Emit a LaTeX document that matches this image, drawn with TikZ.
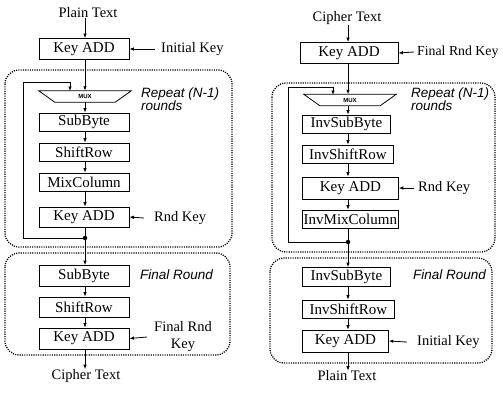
\documentclass[tikz,border=0pt]{standalone}
\usepackage{fontspec}
\setmainfont{Liberation Serif}
\newfontfamily\itsans{Liberation Sans}
\usetikzlibrary{arrows.meta}
\begin{document}
\begin{tikzpicture}[x=1pt,y=-1pt,
  blk/.style={draw, line width=0.8pt, minimum width=90pt, minimum height=18pt, inner sep=0pt, font=\fontsize{15}{15}\selectfont},
  lbl/.style={inner sep=0pt, font=\fontsize{14.5}{17}\selectfont},
  ital/.style={inner sep=0pt, align=left, font=\itsans\itshape\fontsize{13.5}{13}\selectfont},
  region/.style={draw, line width=1.3pt, dash pattern=on 1.1pt off 1.2pt, rounded corners=14pt},
  arr/.style={-{Latex[length=4.5pt,width=3.5pt]}, line width=0.8pt},
  ln/.style={line width=0.8pt},
  jdot/.style={circle, fill, inner sep=0pt, minimum size=4.5pt},
  muxlbl/.style={inner sep=0pt, minimum width=92pt, minimum height=11pt, font=\itsans\bfseries\fontsize{6}{6}\selectfont},
  muxshape/.style={draw, line width=0.8pt}
]
\useasboundingbox (0,0) rectangle (503,392);

% ================= LEFT =================
\coordinate (axL) at (85,0);
\node[lbl] (pt1) at (88,13) {Plain Text};
\node[blk, minimum height=21pt] (ka1) at (84,49) {Key ADD};
\node[lbl, anchor=west] (ik1) at (161,49) {Initial Key};
\draw[arr] (pt1.south -| axL) -- (ka1.north -| axL);
\draw[arr] ([xshift=-6pt]ik1.west) -- (ka1.east);

\draw[region] (5,70) rectangle (232,247);
\node[ital, anchor=north west] (rep1) at (141,88) {Repeat (N-1)\\rounds};

\node[muxlbl] (mux1) at (85,96.5) {MUX};
\draw[muxshape] (mux1.north west) -- (mux1.north east) -- ([xshift=-16pt]mux1.south east) -- ([xshift=16pt]mux1.south west) -- cycle;
\draw[arr] (ka1.south -| axL) -- (mux1.north);

\node[blk] (sb1) at (84,122) {SubByte};
\node[blk] (sr1) at (84,152) {ShiftRow};
\node[blk] (mc1) at (84,182) {MixColumn};
\node[blk, minimum height=20pt] (ka2) at (84,217) {Key ADD};
\node[lbl, anchor=west] (rk1) at (154,218) {Rnd Key};
\draw[arr] (mux1.south) -- (sb1.north -| axL);
\draw[arr] (sb1.south -| axL) -- (sr1.north -| axL);
\draw[arr] (sr1.south -| axL) -- (mc1.north -| axL);
\draw[arr] (mc1.south -| axL) -- (ka2.north -| axL);
\draw[arr] ([xshift=-10pt]rk1.west) -- (ka2.east);

\node[jdot] (j1) at (85,238) {};
\draw[ln] (ka2.south -| axL) -- (j1);
\coordinate (lp1) at (23,82);
\coordinate (mx1) at (70,91);
\draw[arr] (j1) -| (lp1) -| (mx1);

\draw[region] (5,253) rectangle (230,355);
\node[ital, anchor=west] (fr1) at (140,275) {Final Round};
\node[blk, minimum height=21pt] (sb2) at (84,276) {SubByte};
\node[blk, minimum height=20pt] (sr2) at (84,307) {ShiftRow};
\node[blk, minimum height=21pt] (ka3) at (84,338.5) {Key ADD};
\node[lbl, align=center] (frk1) at (183,337) {Final Rnd\\Key};
\draw[arr] (j1) -- (sb2.north -| axL);
\draw[arr] (sb2.south -| axL) -- (sr2.north -| axL);
\draw[arr] (sr2.south -| axL) -- (ka3.north -| axL);
\draw[arr] ([xshift=-7pt]frk1.west) -- (ka3.east);
\node[lbl] (ct1) at (86,376) {Cipher Text};
\draw[arr] (ka3.south -| axL) -- (ct1.north -| axL);

% ================= RIGHT =================
\coordinate (axR) at (348,0);
\node[lbl] (ct2) at (347,18) {Cipher Text};
\node[blk, minimum width=98pt, minimum height=21pt] (rka1) at (349,53) {Key ADD};
\node[lbl, anchor=west, font=\fontsize{13.8}{17}\selectfont] (frk2) at (417,52) {Final Rnd Key};
\draw[arr] ([xshift=-3pt]frk2.west) -- (rka1.east);
\draw[arr] (ct2.south -| axR) -- (rka1.north -| axR);

\draw[region] (272,83) rectangle (495,252);
\node[ital, anchor=north west] (rep2) at (411,88) {Repeat (N-1)\\rounds};

\node[muxlbl] (mux2) at (350,100) {MUX};
\draw[muxshape] (mux2.north west) -- (mux2.north east) -- ([xshift=-16pt]mux2.south east) -- ([xshift=16pt]mux2.south west) -- cycle;
\draw[arr] (rka1.south -| axR) -- (mux2.north -| axR);

\node[blk, anchor=west, minimum width=88pt] (isb1) at (302,124) {InvSubByte};
\node[blk, anchor=west, minimum width=91pt] (isr1) at (302,154) {InvShiftRow};
\node[blk, anchor=west, minimum width=96pt, minimum height=22pt] (rka2) at (302,188) {Key ADD};
\node[lbl, anchor=west] (rk2) at (418,188) {Rnd Key};
\node[blk, anchor=west, minimum width=96pt] (imc1) at (302,219) {InvMixColumn};
\draw[arr] (mux2.south -| axR) -- (isb1.north -| axR);
\draw[arr] (isb1.south -| axR) -- (isr1.north -| axR);
\draw[arr] (isr1.south -| axR) -- (rka2.north -| axR);
\draw[arr] (rka2.south -| axR) -- (imc1.north -| axR);
\draw[arr] ([xshift=-4pt]rk2.west) -- (rka2.east);

\node[jdot] (j2) at (348,242) {};
\draw[ln] (imc1.south -| axR) -- (j2);
\coordinate (lp2) at (288,87);
\coordinate (mx2) at (333,95);
\draw[arr] (j2) -| (lp2) -| (mx2);

\draw[region] (270,258) rectangle (492,363);
\node[ital, anchor=west] (fr2) at (413,275) {Final Round};
\node[blk, anchor=west, minimum width=88pt, minimum height=19pt] (isb2) at (302,277) {InvSubByte};
\node[blk, anchor=west, minimum width=92pt] (isr2) at (302,309) {InvShiftRow};
\node[blk, anchor=west, minimum width=86pt, minimum height=22pt] (rka3) at (302,341) {Key ADD};
\node[lbl, anchor=west] (ik2) at (417,342) {Initial Key};
\draw[arr] (j2) -- (isb2.north -| axR);
\draw[arr] (isb2.south -| axR) -- (isr2.north -| axR);
\draw[arr] (isr2.south -| axR) -- (rka3.north -| axR);
\draw[arr] ([xshift=-10pt]ik2.west) -- (rka3.east);
\node[lbl] (pt2) at (347,376) {Plain Text};
\draw[arr] (rka3.south -| axR) -- (pt2.north -| axR);
\end{tikzpicture}
\end{document}
